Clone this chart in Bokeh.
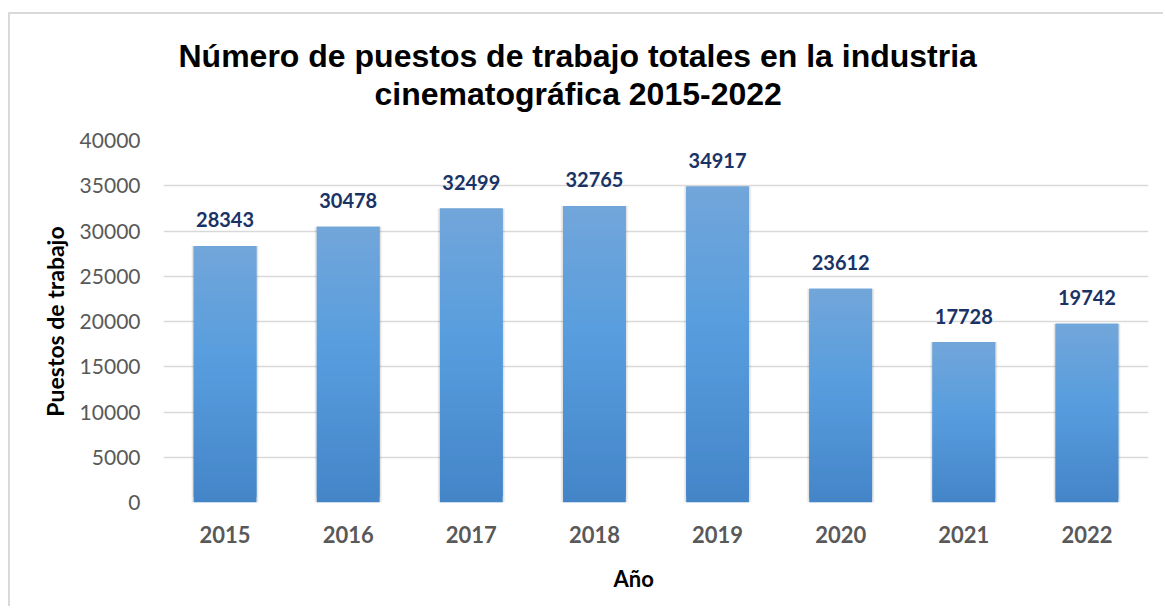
import numpy as np
from bokeh.plotting import figure
from bokeh.models import FactorRange, Range1d, FixedTicker, ColumnDataSource, Title
from bokeh.core.properties import value
from bokeh.embed import file_html
from bokeh.resources import INLINE

# ---- data ----
years = ["2015", "2016", "2017", "2018", "2019", "2020", "2021", "2022"]
jobs = [28343, 30478, 32499, 32765, 34917, 23612, 17728, 19742]
y_ticks = [0, 5000, 10000, 15000, 20000, 25000, 30000, 35000, 40000]
title_lines = ["Número de puestos de trabajo totales en la industria",
               "cinematográfica 2015-2022"]
x_title = "Año"
y_title = "Puestos de trabajo"

# ---- figure ----
W, H = 1155, 594
p = figure(x_range=FactorRange(*years), y_range=Range1d(0, 40000),
           width=W, height=H, output_backend="svg", toolbar_location=None,
           min_border_left=153, min_border_right=17,
           min_border_top=126, min_border_bottom=106)
p.margin = (12, 0, 0, 8)
p.styles = {"border-left": "2px solid #d9d9d9", "border-top": "2px solid #d9d9d9"}
p.outline_line_color = None
p.background_fill_color = "white"
p.border_fill_color = "white"

# gradient colours (bottom -> middle -> top)
stops = [(0.0, (0x44, 0x85, 0xC8)), (0.55, (0x57, 0x9D, 0xDE)), (1.0, (0x72, 0xA6, 0xDA))]


def grad(t):
    for (t0, c0), (t1, c1) in zip(stops[:-1], stops[1:]):
        if t <= t1:
            f = (t - t0) / (t1 - t0)
            c = [round(a + (b - a) * f) for a, b in zip(c0, c1)]
            return "#%02x%02x%02x" % tuple(c)
    return "#%02x%02x%02x" % stops[-1][1]


# shadow
p.vbar(x=years, top=jobs, width=0.55, fill_color="black", fill_alpha=0.04, line_color=None)
p.vbar(x=years, top=jobs, width=0.535, fill_color="black", fill_alpha=0.07, line_color=None)

N = 50
seg = dict(x=[], bottom=[], top=[], color=[])
for yr, v in zip(years, jobs):
    for k in range(N):
        seg["x"].append(yr)
        seg["bottom"].append(v * k / N)
        seg["top"].append(min(v, v * (k + 2) / N))
        seg["color"].append(grad((k + 0.5) / N))
src = ColumnDataSource(seg)
p.vbar(x="x", bottom="bottom", top="top", width=0.51, source=src,
       fill_color="color", line_color=None)

# data labels
p.text(x=years, y=jobs, text=[str(v) for v in jobs], text_align="center",
       text_baseline="alphabetic", y_offset=-26,
       text_font=value("Lato"), text_font_style="bold", text_font_size="20px",
       text_color="#1A3366")

# grid
p.xgrid.grid_line_color = None
p.ygrid.grid_line_color = "#d9d9d9"
p.ygrid.grid_line_width = 1.5
p.ygrid.ticker = FixedTicker(ticks=y_ticks)

# axes
p.yaxis.ticker = FixedTicker(ticks=y_ticks)
for ax in (p.xaxis[0], p.yaxis[0]):
    ax.axis_line_color = None
    ax.major_tick_line_color = None
    ax.minor_tick_line_color = None
    ax.major_tick_out = 0
    ax.major_tick_in = 0
    ax.major_label_text_color = "#595959"
    ax.major_label_text_font = "Lato"
    ax.axis_label_text_font = "Lato"
    ax.axis_label_text_font_style = "bold"
    ax.axis_label_text_color = "black"

p.yaxis.major_label_text_font_size = "21px"
p.yaxis.major_label_standoff = 23
p.yaxis.axis_label = y_title
p.yaxis.axis_label_text_font_size = "23px"
p.yaxis.axis_label_standoff = 8

p.xaxis.major_label_text_font_size = "22px"
p.xaxis.major_label_text_font_style = "bold"
p.xaxis.major_label_standoff = 23

# x-axis title (below the tick labels, left of centre as in the original)
p.add_layout(Title(text=x_title, align="left", offset=450, standoff=34,
                   vertical_align="bottom", text_font="Lato",
                   text_font_style="bold", text_font_size="22px",
                   text_color="black"), "below")

# chart title: spacer + two lines (first added is nearest the plot)
p.add_layout(Title(text=" ", standoff=16, text_font_size="10px"), "above")
p.add_layout(Title(text=title_lines[1], align="left", offset=211, standoff=0,
                   vertical_align="bottom", text_font="Liberation Sans",
                   text_font_style="bold", text_font_size="32px",
                   text_color="black"), "above")
p.add_layout(Title(text=title_lines[0], align="left", offset=15, standoff=0,
                   vertical_align="bottom", text_font="Liberation Sans",
                   text_font_style="bold", text_font_size="32px",
                   text_color="black"), "above")

open("out.html", "w").write(file_html(p, INLINE))
